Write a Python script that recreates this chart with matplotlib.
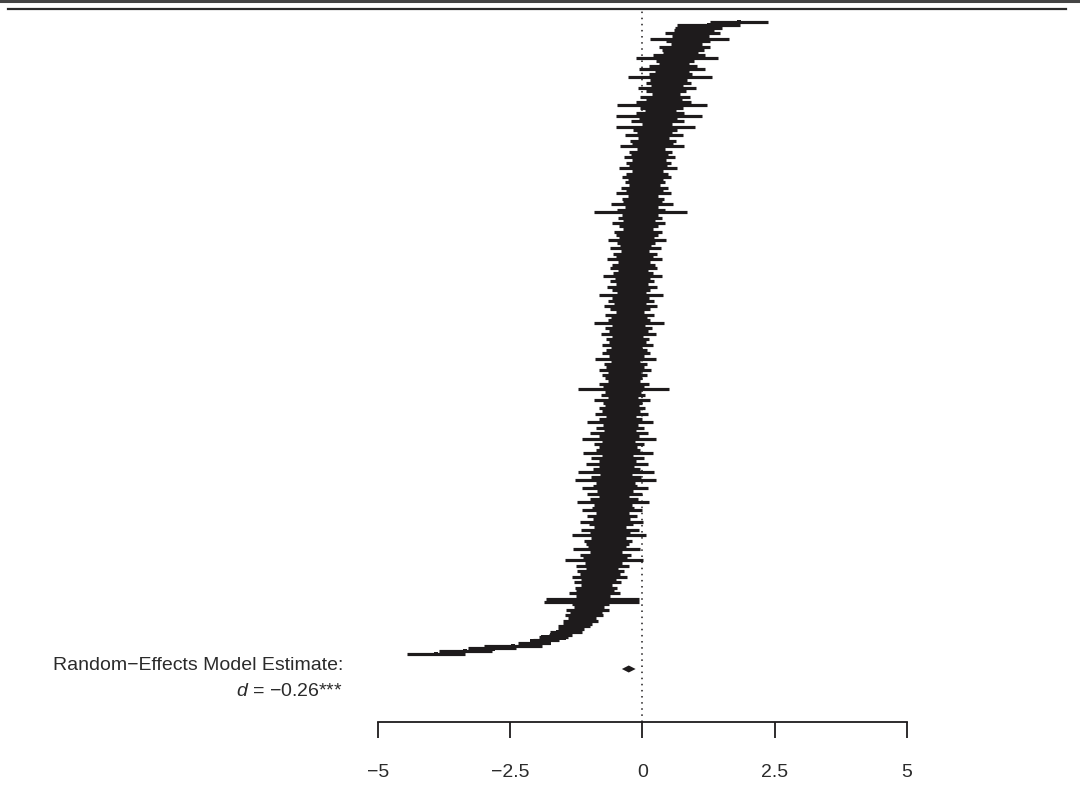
import matplotlib
matplotlib.use("Agg")
import matplotlib.pyplot as plt
from matplotlib.lines import Line2D
from matplotlib.patches import Polygon

plt.rcParams['font.family'] = ['Liberation Sans', 'DejaVu Sans']
plt.rcParams['mathtext.fontset'] = 'custom'
plt.rcParams['mathtext.it'] = 'Liberation Sans:italic'
plt.rcParams['mathtext.rm'] = 'Liberation Sans'

# Study effect sizes (Cohen's d), sorted from top row to bottom row
effects = [
    1.82, 1.25, 1.06, 0.98, 0.94, 0.91, 0.89, 0.86, 0.83, 0.79,
    0.76, 0.72, 0.69, 0.65, 0.62, 0.60, 0.58, 0.56, 0.55, 0.53,
    0.52, 0.50, 0.49, 0.47, 0.46, 0.45, 0.44, 0.42, 0.41, 0.39,
    0.37, 0.36, 0.34, 0.33, 0.31, 0.30, 0.28, 0.27, 0.25, 0.24,
    0.23, 0.22, 0.21, 0.20, 0.19, 0.18, 0.16, 0.15, 0.14, 0.13,
    0.12, 0.11, 0.10, 0.10, 0.09, 0.08, 0.07, 0.06, 0.05, 0.04,
    0.04, 0.03, 0.02, 0.01, 0.01, 0.00, -0.01, -0.02, -0.03, -0.04,
    -0.05, -0.05, -0.06, -0.07, -0.08, -0.09, -0.09, -0.10, -0.11, -0.11,
    -0.12, -0.13, -0.13, -0.14, -0.14, -0.15, -0.16, -0.16, -0.17, -0.17,
    -0.18, -0.18, -0.19, -0.19, -0.20, -0.20, -0.20, -0.21, -0.21, -0.22,
    -0.22, -0.22, -0.23, -0.23, -0.24, -0.24, -0.24, -0.25, -0.25, -0.26,
    -0.26, -0.26, -0.27, -0.27, -0.28, -0.28, -0.29, -0.29, -0.30, -0.30,
    -0.31, -0.31, -0.32, -0.32, -0.32, -0.33, -0.33, -0.34, -0.34, -0.35,
    -0.35, -0.35, -0.36, -0.36, -0.37, -0.37, -0.37, -0.38, -0.38, -0.39,
    -0.39, -0.40, -0.40, -0.41, -0.41, -0.42, -0.42, -0.43, -0.43, -0.44,
    -0.44, -0.44, -0.45, -0.45, -0.46, -0.46, -0.47, -0.47, -0.47, -0.48,
    -0.48, -0.49, -0.49, -0.50, -0.50, -0.50, -0.51, -0.51, -0.52, -0.52,
    -0.52, -0.53, -0.54, -0.54, -0.55, -0.55, -0.56, -0.57, -0.57, -0.58,
    -0.59, -0.59, -0.60, -0.61, -0.62, -0.62, -0.63, -0.64, -0.65, -0.66,
    -0.67, -0.68, -0.69, -0.70, -0.71, -0.73, -0.74, -0.76, -0.77, -0.79,
    -0.81, -0.82, -0.84, -0.85, -0.87, -0.88, -0.90, -0.91, -0.93, -0.95,
    -0.97, -0.99, -1.01, -1.04, -1.07, -1.10, -1.14, -1.18, -1.23, -1.29,
    -1.35, -1.44, -1.55, -1.68, -1.82, -2.05, -2.45, -2.85, -3.35, -3.90,
]

# Half-widths of the 95% confidence intervals, same order
ci_half = [
    0.55, 0.60, 0.45, 0.38, 0.52, 0.35, 0.75, 0.42, 0.30, 0.48,
    0.40, 0.33, 0.50, 0.78, 0.36, 0.28, 0.45, 0.62, 0.32, 0.40,
    0.80, 0.35, 0.42, 0.30, 0.55, 0.38, 0.26, 0.47, 0.34, 0.52,
    0.85, 0.40, 0.30, 0.45, 0.82, 0.36, 0.50, 0.28, 0.75, 0.42,
    0.33, 0.55, 0.30, 0.44, 0.38, 0.60, 0.27, 0.40, 0.35, 0.48,
    0.32, 0.42, 0.36, 0.55, 0.29, 0.40, 0.46, 0.33, 0.38, 0.30,
    0.44, 0.35, 0.52, 0.28, 0.40, 0.36, 0.58, 0.31, 0.45, 0.88,
    0.34, 0.42, 0.30, 0.50, 0.37, 0.28, 0.45, 0.40, 0.33, 0.55,
    0.36, 0.30, 0.48, 0.27, 0.42, 0.35, 0.52, 0.31, 0.40, 0.45,
    0.29, 0.38, 0.56, 0.33, 0.41, 0.30, 0.47, 0.36, 0.28, 0.60,
    0.35, 0.43, 0.30, 0.50, 0.38, 0.27, 0.46, 0.34, 0.40, 0.66,
    0.31, 0.44, 0.37, 0.52, 0.29, 0.41, 0.35, 0.48, 0.30, 0.39,
    0.45, 0.33, 0.58, 0.28, 0.40, 0.36, 0.49, 0.31, 0.43, 0.35,
    0.30, 0.47, 0.38, 0.86, 0.34, 0.42, 0.29, 0.53, 0.37, 0.32,
    0.44, 0.36, 0.50, 0.28, 0.41, 0.62, 0.33, 0.45, 0.30, 0.55,
    0.38, 0.70, 0.31, 0.47, 0.36, 0.42, 0.66, 0.29, 0.50, 0.35,
    0.58, 0.33, 0.44, 0.72, 0.30, 0.48, 0.76, 0.37, 0.41, 0.62,
    0.34, 0.52, 0.29, 0.45, 0.68, 0.36, 0.40, 0.57, 0.31, 0.47,
    0.35, 0.60, 0.42, 0.30, 0.55, 0.38, 0.70, 0.33, 0.46, 0.40,
    0.36, 0.64, 0.31, 0.48, 0.42, 0.74, 0.35, 0.50, 0.30, 0.44,
    0.38, 0.52, 0.33, 0.45, 0.30, 0.40, 0.36, 0.48, 0.32, 0.88,
    0.90, 0.35, 0.28, 0.40, 0.30, 0.36, 0.26, 0.33, 0.28, 0.30,
    0.25, 0.30, 0.22, 0.28, 0.25, 0.30, 0.55, 0.45, 0.50, 0.55,
]

# Random-effects summary estimate and its CI
re_est = -0.26
re_lo = -0.39
re_hi = -0.13
summary_label = "Random\u2212Effects Model Estimate:"
summary_value = "$d$ = \u22120.26***"

x_ticks = [-5, -2.5, 0, 2.5, 5]
x_ticklabels = ["\u22125", "\u22122.5", "0", "2.5", "5"]

ink = "#1e1b1c"
W, H = 1080, 787
fig = plt.figure(figsize=(W / 100, H / 100), dpi=100)

# layout (pixel-based geometry of the page)
ax_top_px, ax_bot_px = 10, 722
first_row_px, last_row_px = 22, 654
n = len(effects)
row_px = (last_row_px - first_row_px) / (n - 1)

ax = fig.add_axes([0, 1 - ax_bot_px / H, 1, (ax_bot_px - ax_top_px) / H])
# x mapping: -5 -> 378 px, 5 -> 907 px
px_per_unit = (907 - 378) / 10.0
x0_px = 378 + 5 * px_per_unit
ax.set_xlim(-x0_px / px_per_unit, (W - x0_px) / px_per_unit)
y_bottom = -(ax_bot_px - last_row_px) / row_px
y_top = (n - 1) + (first_row_px - ax_top_px) / row_px
ax.set_ylim(y_bottom, y_top)

rows = [(n - 1) - i for i in range(n)]
lows = [e - h for e, h in zip(effects, ci_half)]
highs = [e + h for e, h in zip(effects, ci_half)]
ax.hlines(rows, lows, highs, color=ink, linewidth=row_px * 1.15 * 72 / 100)

# squares at the point estimates, sized by precision
sq = [(2.4 / h) * 72 / 100 for h in ci_half]
for r, e, s in zip(rows, effects, sq):
    ax.plot([e], [r], marker='s', markersize=s, color=ink, markeredgewidth=0, linestyle='none')

# reference line at 0
ax.axvline(0, color=ink, linestyle=(0, (1, 3)), linewidth=1.1, zorder=0)

# summary diamond
yd = -(669 - last_row_px) / row_px
hd = 3.5 / row_px
ax.add_patch(Polygon([(re_lo, yd), (re_est, yd + hd), (re_hi, yd), (re_est, yd - hd)],
                     closed=True, color=ink, lw=0))

x_text = (343 - x0_px) / px_per_unit
ax.text(x_text, -(666 - last_row_px) / row_px, summary_label, ha='right', va='center',
        fontsize=14, color='#2b2b2b')
ax.text(x_text, -(692 - last_row_px) / row_px, summary_value, ha='right', va='center',
        fontsize=14, color='#2b2b2b')

for s in ['top', 'left', 'right']:
    ax.spines[s].set_visible(False)
ax.spines['bottom'].set_bounds(-5, 5)
ax.spines['bottom'].set_linewidth(1.3)
ax.spines['bottom'].set_color(ink)
ax.set_xticks(x_ticks)
ax.set_xticklabels(x_ticklabels, fontsize=14, color='#2b2b2b')
ax.tick_params(axis='x', direction='out', length=11.5, width=1.3, color=ink, pad=19)
ax.set_yticks([])
ax.patch.set_visible(False)

# page rules at top
fig.add_artist(Line2D([0, 1], [1 - 1 / H, 1 - 1 / H], transform=fig.transFigure,
                      color='#444444', linewidth=2.2))
fig.add_artist(Line2D([8 / W, 1066 / W], [1 - 8.5 / H, 1 - 8.5 / H], transform=fig.transFigure,
                      color='#2a2a2a', linewidth=1.6))

fig.savefig("out.png", dpi=100)
